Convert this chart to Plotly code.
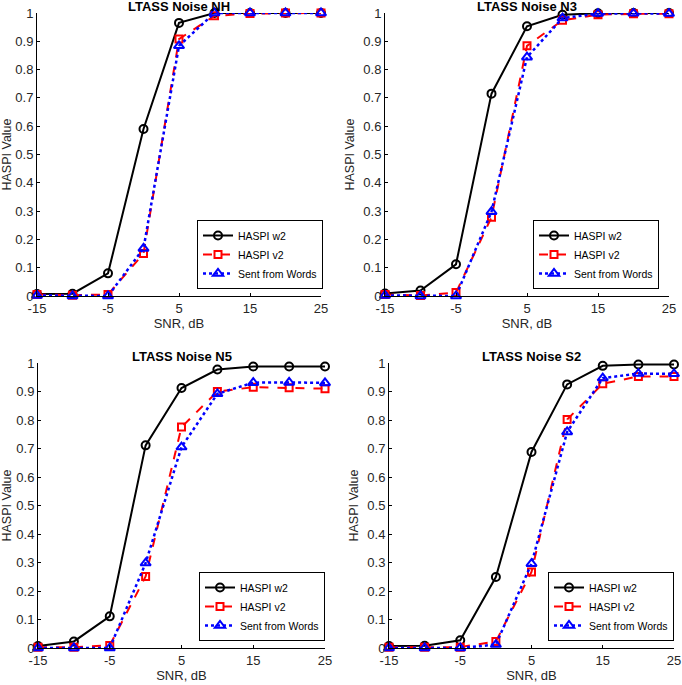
import plotly.graph_objects as go

snr = [-15, -10, -5, 0, 5, 10, 15, 20, 25]

titles = ["LTASS Noise NH", "LTASS Noise N3", "LTASS Noise N5", "LTASS Noise S2"]

w2_NH = [0.007, 0.008, 0.08, 0.59, 0.965, 1.0, 1.0, 1.0, 1.0]
v2_NH = [0.005, 0.003, 0.005, 0.15, 0.908, 0.99, 0.998, 1.0, 1.0]
sw_NH = [0.002, 0.0, 0.0, 0.168, 0.884, 1.0, 1.0, 1.0, 1.0]

w2_N3 = [0.009, 0.019, 0.112, 0.715, 0.953, 0.994, 0.999, 1.0, 1.0]
v2_N3 = [0.005, 0.002, 0.012, 0.278, 0.884, 0.974, 0.994, 0.997, 0.997]
sw_N3 = [0.002, 0.0, 0.0, 0.298, 0.844, 0.982, 0.998, 0.999, 0.998]

w2_N5 = [0.007, 0.023, 0.111, 0.711, 0.912, 0.977, 0.988, 0.988, 0.988]
v2_N5 = [0.003, 0.003, 0.009, 0.251, 0.775, 0.9, 0.915, 0.913, 0.91]
sw_N5 = [0.0, 0.0, 0.0, 0.298, 0.705, 0.892, 0.931, 0.932, 0.93]

w2_S2 = [0.007, 0.008, 0.027, 0.249, 0.688, 0.925, 0.99, 0.995, 0.995]
v2_S2 = [0.003, 0.003, 0.003, 0.023, 0.267, 0.802, 0.927, 0.953, 0.953]
sw_S2 = [0.0, 0.0, 0.0, 0.012, 0.296, 0.758, 0.947, 0.963, 0.962]

panels = [(w2_NH, v2_NH, sw_NH), (w2_N3, v2_N3, sw_N3),
          (w2_N5, v2_N5, sw_N5), (w2_S2, v2_S2, sw_S2)]

series_names = ["HASPI w2", "HASPI v2", "Sent from Words"]
x_ticks = [-15, -5, 5, 15, 25]
y_ticks = [0, 0.1, 0.2, 0.3, 0.4, 0.5, 0.6, 0.7, 0.8, 0.9, 1]
y_ticktext = ["0", "0.1", "0.2", "0.3", "0.4", "0.5", "0.6", "0.7", "0.8", "0.9", "1"]

W, H = 682, 685
xdoms = [[37 / W, 321 / W], [385 / W, 669 / W], [38 / W, 325 / W], [389 / W, 674 / W]]
ydoms = [[1 - 296 / H, 1 - 13 / H], [1 - 296 / H, 1 - 13 / H],
         [1 - 648 / H, 1 - 363 / H], [1 - 648 / H, 1 - 363 / H]]
leg_pos = [(323 / W, 1 - 289 / H), (659 / W, 1 - 289 / H),
           (325 / W, 1 - 641 / H), (674 / W, 1 - 641 / H)]

styles = [
    dict(line=dict(color="black", width=2, dash="solid"),
         marker=dict(symbol="circle-open", size=8, color="black", line=dict(width=2))),
    dict(line=dict(color="red", width=2, dash="dash"),
         marker=dict(symbol="square-open", size=7, color="red", line=dict(width=2))),
    dict(line=dict(color="blue", width=2.5, dash="dot"),
         marker=dict(symbol="triangle-up-open", size=9, color="blue", line=dict(width=2))),
]

font = "Liberation Sans, Arial, sans-serif"
txt = "#262626"
fig = go.Figure()
layout = dict(
    width=W, height=H, margin=dict(l=0, r=0, t=0, b=0),
    paper_bgcolor="white", plot_bgcolor="white",
    font=dict(family=font, size=12, color=txt),
    annotations=[],
)

for i, (vals, title) in enumerate(zip(panels, titles)):
    xa = "x" if i == 0 else f"x{i+1}"
    ya = "y" if i == 0 else f"y{i+1}"
    lg = "legend" if i == 0 else f"legend{i+1}"
    for s, (name, v) in enumerate(zip(series_names, vals)):
        fig.add_trace(go.Scatter(
            x=snr, y=v, name=name, mode="lines+markers",
            xaxis=xa, yaxis=ya, legend=lg, cliponaxis=False,
            **styles[s]))
    xkey = "xaxis" if i == 0 else f"xaxis{i+1}"
    ykey = "yaxis" if i == 0 else f"yaxis{i+1}"
    layout[xkey] = dict(
        domain=xdoms[i], anchor=ya, range=[-15, 25],
        tickmode="array", tickvals=x_ticks, ticktext=[str(t) for t in x_ticks],
        ticks="inside", ticklen=3, tickcolor="black",
        showline=True, linecolor="black", linewidth=1, showgrid=False, zeroline=False,
        tickfont=dict(size=13, color=txt),
        title=dict(text="SNR, dB", font=dict(size=13, color=txt), standoff=3),
        automargin=False,
    )
    layout[ykey] = dict(
        domain=ydoms[i], anchor=xa, range=[0, 1],
        tickmode="array", tickvals=y_ticks, ticktext=y_ticktext,
        ticks="inside", ticklen=3, tickcolor="black",
        showline=True, linecolor="black", linewidth=1, showgrid=False, zeroline=False,
        tickfont=dict(size=13, color=txt),
        title=dict(text="HASPI Value", font=dict(size=12.5, color=txt), standoff=5),
        automargin=False,
    )
    layout[lg] = dict(
        x=leg_pos[i][0], y=leg_pos[i][1], xanchor="right", yanchor="bottom",
        xref="paper", yref="paper",
        bgcolor="white", bordercolor="black", borderwidth=1,
        font=dict(size=10.5, color="black"), itemwidth=30, tracegroupgap=0,
    )
    cx = (xdoms[i][0] + xdoms[i][1]) / 2
    ty = ydoms[i][1]
    layout["annotations"].append(dict(
        text="<b>" + title + "</b>", x=cx, y=ty, xref="paper", yref="paper",
        xanchor="center", yanchor="bottom", showarrow=False, yshift=-3,
        font=dict(size=13, color="black", family=font)))

fig.update_layout(**layout)
fig.write_html("out.html", config={"displayModeBar": False},
               post_script="document.body.style.margin='0';")
